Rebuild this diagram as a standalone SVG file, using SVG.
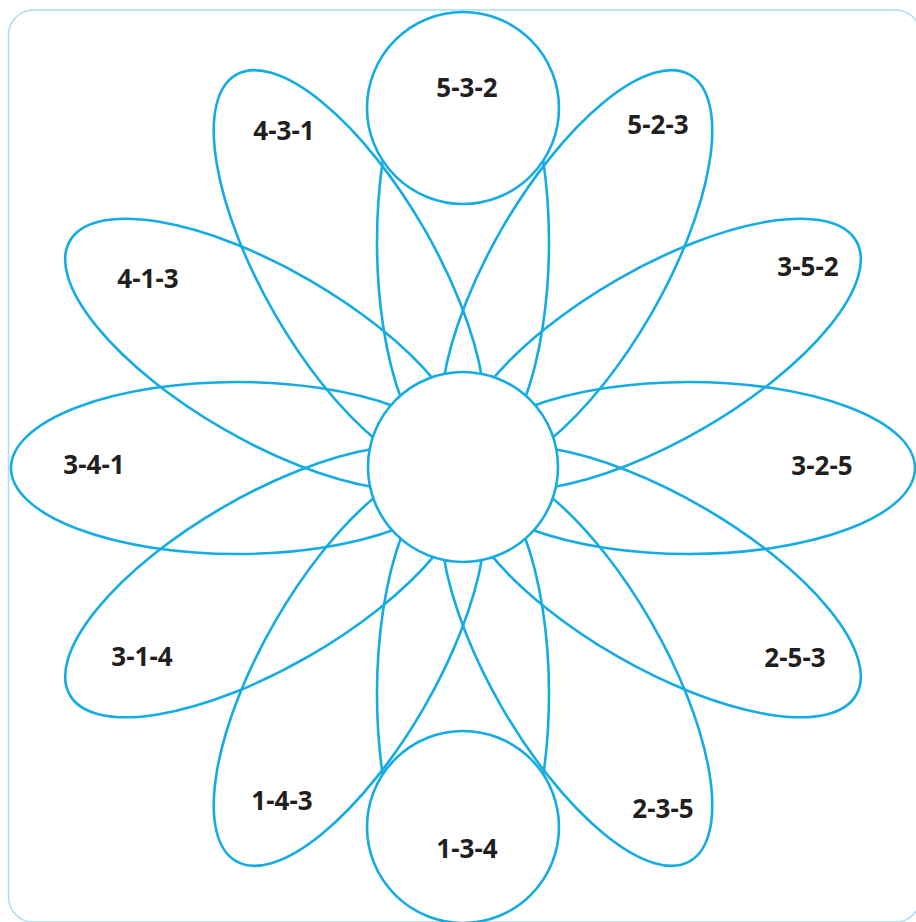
<svg xmlns="http://www.w3.org/2000/svg" width="916" height="922" viewBox="0 0 916 922">
<style>
.frame{fill:#ffffff;stroke:#a6def6;stroke-width:1.5}
.petal{fill:none;stroke:#15ace4;stroke-width:2.6}
.disc{fill:#ffffff;stroke:#15ace4;stroke-width:2.6}
.lbl{font-family:"Noto Sans","Open Sans","Liberation Sans",sans-serif;font-weight:700;font-size:26px;fill:#231f20;text-anchor:middle}
</style>
<rect class="frame" x="8.5" y="10" width="912" height="912" rx="25" ry="25"/>
<g id="petals">
<g id="p0"><ellipse class="petal" cx="689" cy="468" rx="226" ry="86" transform="rotate(0 463 468)"/></g>
<g id="p30"><ellipse class="petal" cx="690" cy="468" rx="227" ry="86" transform="rotate(-30 463 468)"/></g>
<g id="p60"><ellipse class="petal" cx="690" cy="468" rx="227" ry="86" transform="rotate(-60 463 468)"/></g>
<g id="p90"><ellipse class="petal" cx="689" cy="468" rx="226" ry="86" transform="rotate(-90 463 468)"/></g>
<g id="p120"><ellipse class="petal" cx="690" cy="468" rx="227" ry="86" transform="rotate(-120 463 468)"/></g>
<g id="p150"><ellipse class="petal" cx="690" cy="468" rx="227" ry="86" transform="rotate(-150 463 468)"/></g>
<g id="p180"><ellipse class="petal" cx="689" cy="468" rx="226" ry="86" transform="rotate(-180 463 468)"/></g>
<g id="p210"><ellipse class="petal" cx="690" cy="468" rx="227" ry="86" transform="rotate(-210 463 468)"/></g>
<g id="p240"><ellipse class="petal" cx="690" cy="468" rx="227" ry="86" transform="rotate(-240 463 468)"/></g>
<g id="p270"><ellipse class="petal" cx="689" cy="468" rx="226" ry="86" transform="rotate(-270 463 468)"/></g>
<g id="p300"><ellipse class="petal" cx="690" cy="468" rx="227" ry="86" transform="rotate(-300 463 468)"/></g>
<g id="p330"><ellipse class="petal" cx="690" cy="468" rx="227" ry="86" transform="rotate(-330 463 468)"/></g>
</g>
<g id="center"><circle class="disc" cx="463" cy="467" r="95"/></g>
<g id="top-circle"><circle class="disc" cx="463" cy="108" r="96"/><text class="lbl" x="467" y="97">5-3-2</text></g>
<g id="bottom-circle"><circle class="disc" cx="463" cy="827" r="96"/><text class="lbl" x="467" y="858">1-3-4</text></g>
<g id="labels">
<g id="l-523"><text class="lbl" x="658" y="134">5-2-3</text></g>
<g id="l-431"><text class="lbl" x="284" y="140">4-3-1</text></g>
<g id="l-413"><text class="lbl" x="148" y="288">4-1-3</text></g>
<g id="l-352"><text class="lbl" x="808" y="276">3-5-2</text></g>
<g id="l-341"><text class="lbl" x="94" y="474">3-4-1</text></g>
<g id="l-325"><text class="lbl" x="822" y="475">3-2-5</text></g>
<g id="l-314"><text class="lbl" x="142" y="666">3-1-4</text></g>
<g id="l-253"><text class="lbl" x="795" y="667">2-5-3</text></g>
<g id="l-143"><text class="lbl" x="282" y="810">1-4-3</text></g>
<g id="l-235"><text class="lbl" x="663" y="818">2-3-5</text></g>
</g>
</svg>
